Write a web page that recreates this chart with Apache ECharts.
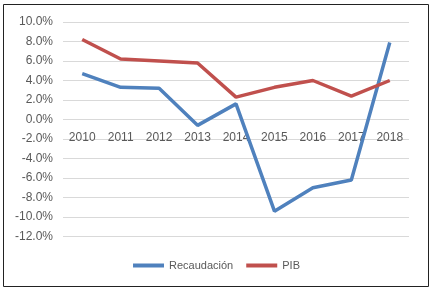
<!DOCTYPE html>
<html>
<head>
<meta charset="UTF-8">
<title>Recaudación vs PIB</title>
<script src="https://cdn.jsdelivr.net/npm/echarts@6/dist/echarts.min.js"></script>
<style>
  html, body { margin: 0; padding: 0; background: #fff; }
  #main { width: 433px; height: 293px; }
</style>
</head>
<body>
<div id="main"></div>
<script>
var years = ['2010', '2011', '2012', '2013', '2014', '2015', '2016', '2017', '2018'];
var recaudacion = [4.7, 3.3, 3.2, -0.6, 1.6, -9.4, -7.0, -6.2, 7.9];
var pib = [8.2, 6.2, 6.0, 5.8, 2.3, 3.3, 4.0, 2.4, 4.0];

var myChart = echarts.init(document.getElementById('main'));
var option = {
  backgroundColor: '#fff',
  textStyle: { fontFamily: 'Liberation Sans' },
  graphic: [{
    type: 'rect',
    shape: { x: 3.5, y: 4.5, width: 425, height: 282 },
    style: { fill: 'none', stroke: '#222', lineWidth: 1 },
    silent: true
  }],
  grid: { left: 63, right: 24, top: 22, bottom: 56.5 },
  legend: {
    bottom: 17,
    left: 'center',
    itemWidth: 31,
    itemHeight: 4,
    itemGap: 13,
    icon: 'rect',
    textStyle: { color: '#595959', fontSize: 11 },
    data: ['Recaudación', 'PIB']
  },
  xAxis: {
    type: 'category',
    data: years,
    boundaryGap: true,
    position: 'bottom',
    offset: -118.5,
    axisLine: { show: false, onZero: false },
    axisTick: { show: false },
    axisLabel: { color: '#595959', fontSize: 12, margin: 14 }
  },
  yAxis: {
    type: 'value',
    min: -12,
    max: 10,
    interval: 2,
    axisLine: { show: false },
    axisTick: { show: false },
    splitLine: { lineStyle: { color: '#d9d9d9' } },
    axisLabel: {
      color: '#595959',
      fontSize: 12,
      margin: 10,
      formatter: function (v) { return v.toFixed(1) + '%'; }
    }
  },
  series: [{
    name: 'Recaudación',
    type: 'line',
    data: recaudacion,
    symbol: 'none',
    color: '#4f81bd',
    lineStyle: { width: 3.5, color: '#4f81bd' }
  }, {
    name: 'PIB',
    type: 'line',
    data: pib,
    symbol: 'none',
    color: '#c0504d',
    lineStyle: { width: 3.5, color: '#c0504d' }
  }]
};
myChart.setOption(option);
</script>
</body>
</html>
